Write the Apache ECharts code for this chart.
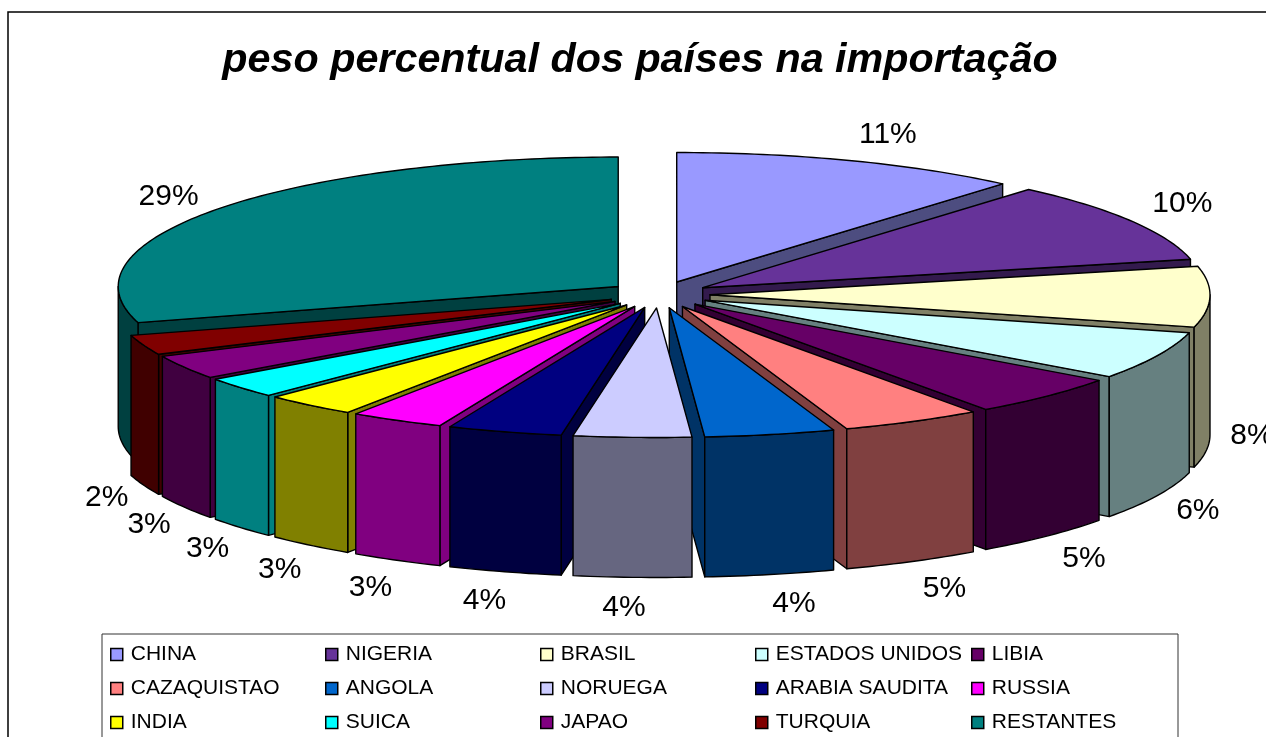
<!DOCTYPE html>
<html lang="en">
<head>
    <meta charset="UTF-8">
    <title>peso percentual dos países na importação</title>
    <script src="https://cdn.jsdelivr.net/npm/echarts@6/dist/echarts.min.js"></script>
    <style>
        html, body { margin: 0; padding: 0; background: #fff; overflow: hidden; }
        #chart { width: 1266px; height: 737px; }
    </style>
</head>
<body>
<div id="chart"></div>
<script type="text/javascript">
    const countries = ['CHINA', 'NIGERIA', 'BRASIL', 'ESTADOS UNIDOS', 'LIBIA', 'CAZAQUISTAO', 'ANGOLA', 'NORUEGA',
        'ARABIA SAUDITA', 'RUSSIA', 'INDIA', 'SUICA', 'JAPAO', 'TURQUIA', 'RESTANTES'];
    const shares = [11.3, 10.17, 7.55, 6.0, 5.1, 4.55, 4.2, 3.8, 3.7, 3.05, 3.0, 2.6, 3.0, 2.49, 29.49];
    const colors = ['#9999FF', '#663399', '#FFFFCC', '#CCFFFF', '#660066', '#FF8080', '#0066CC', '#CCCCFF',
        '#000080', '#FF00FF', '#FFFF00', '#00FFFF', '#800080', '#800000', '#008080'];

    const FONT = '"Liberation Sans", Arial, sans-serif';

    // fake 3d pie: ellipse radii, wall height, how far slices are pulled out
    const pie = { cx: 659, cy: 294.6, rx: 500, ry: 129.5, depth: 140, ex: 51, ey: 13.4 };

    const total = shares.reduce((a, b) => a + b, 0);
    let running = 0;
    const slices = shares.map(v => {
        const start = running / total * Math.PI * 2;
        running += v;
        const end = running / total * Math.PI * 2;
        return { start, end, mid: (start + end) / 2, pct: Math.round(v / total * 100) };
    });

    function halfColor(hex) {
        const n = parseInt(hex.slice(1), 16);
        return 'rgb(' + [(n >> 16) & 255, (n >> 8) & 255, n & 255].map(c => Math.round(c / 2)).join(',') + ')';
    }

    function rimPoint(s, angle) {
        const ax = pie.cx + pie.ex * Math.sin(s.mid);
        const ay = pie.cy - pie.ey * Math.cos(s.mid);
        return [ax + pie.rx * Math.sin(angle), ay - pie.ry * Math.cos(angle)];
    }

    function arcPoints(s, from, to) {
        const pts = [];
        const steps = Math.max(2, Math.ceil((to - from) / (Math.PI / 180)));
        for (let i = 0; i <= steps; i++) pts.push(rimPoint(s, from + (to - from) * i / steps));
        return pts;
    }

    function down(p) {
        return [p[0], p[1] + pie.depth];
    }

    // where the percent label goes, relative to the rim at the middle of the slice
    function labelOffset(sin, cos) {
        const side = Math.abs(sin);
        if (cos > 0.001) return [54 * Math.pow(side, 0.35) * Math.sign(sin), -26 * cos - 4 * sin];
        const dx = sin > 0 ? 42 * Math.pow(side, 0.35) : -38 * Math.sqrt(side);
        return [dx, -3 + 33 * Math.pow(Math.abs(cos), 0.7)];
    }

    function sliceShapes(index) {
        const s = slices[index];
        const top = colors[index];
        const side = halfColor(top);
        const apex = [pie.cx + pie.ex * Math.sin(s.mid), pie.cy - pie.ey * Math.cos(s.mid)];
        const line = { stroke: '#000', lineWidth: 1.4, lineJoin: 'round' };
        const face = (points, fill) => ({ type: 'polygon', shape: { points }, style: Object.assign({ fill }, line) });
        const children = [];

        // cut faces: the clockwise end shows on the right half, the start on the left half
        [[s.end, Math.sin(s.end) > 0.001], [s.start, Math.sin(s.start) < -0.001]].forEach(([angle, show]) => {
            if (!show) return;
            const p = rimPoint(s, angle);
            children.push(face([apex, p, down(p), down(apex)], side));
        });

        // outer wall, only the part of the rim facing us
        const from = Math.max(s.start, Math.PI / 2);
        const to = Math.min(s.end, Math.PI * 1.5);
        if (to > from) {
            const arc = arcPoints(s, from, to);
            children.push(face(arc.concat(arc.map(down).reverse()), side));
        }

        children.push(face([apex].concat(arcPoints(s, s.start, s.end)), top));

        const sin = Math.sin(s.mid), cos = Math.cos(s.mid);
        const edge = [apex[0] + pie.rx * sin, apex[1] - pie.ry * cos + (cos < 0.001 ? pie.depth : 0)];
        const off = labelOffset(sin, cos);
        children.push({
            type: 'text',
            style: {
                text: s.pct + '%',
                x: edge[0] + off[0],
                y: edge[1] + off[1],
                align: 'center',
                verticalAlign: 'middle',
                fill: '#000',
                fontSize: 30,
                fontFamily: FONT
            }
        });
        return { type: 'group', children };
    }

    // back slices first, the front ones have to cover them
    const paintOrder = slices.map((s, i) => [Math.cos(s.mid), i]).sort((a, b) => b[0] - a[0]).map(d => d[1]);

    const series = countries.map((name, i) => ({
        type: 'custom',
        name: name,
        coordinateSystem: 'none',
        silent: true,
        z: 10 + paintOrder.indexOf(i),
        itemStyle: { color: colors[i] },
        data: [[shares[i]]],
        renderItem: () => sliceShapes(i)
    }));

    const legendColumns = [110, 325, 540, 755, 971];
    const legends = legendColumns.map((x, col) => ({
        orient: 'vertical',
        left: x,
        top: 644,
        padding: 0,
        itemGap: 13,
        itemWidth: 12,
        itemHeight: 12,
        icon: 'rect',
        selectedMode: false,
        itemStyle: { borderColor: '#000', borderWidth: 1.5 },
        textStyle: { fontSize: 21, fontFamily: FONT, color: '#000', padding: [0, 0, 0, 3], lineHeight: 20 },
        data: [countries[col], countries[col + 5], countries[col + 10]]
    }));

    const chart = echarts.init(document.getElementById('chart'), null, { renderer: 'canvas' });
    chart.setOption({
        animation: false,
        backgroundColor: '#fff',
        title: {
            text: 'peso percentual dos países na importação',
            left: 640,
            top: 40,
            textAlign: 'center',
            padding: 0,
            textStyle: { fontSize: 41.3, fontWeight: 'bold', fontStyle: 'italic', fontFamily: FONT, color: '#000' }
        },
        legend: legends,
        graphic: [
            { type: 'rect', z: -1, shape: { x: 8, y: 12, width: 1320, height: 800 }, style: { fill: '#fff', stroke: '#000', lineWidth: 1.5 } },
            { type: 'rect', z: 0, shape: { x: 102, y: 634, width: 1076, height: 120 }, style: { fill: '#fff', stroke: '#333', lineWidth: 1 } }
        ],
        series: series
    });
</script>
</body>
</html>
